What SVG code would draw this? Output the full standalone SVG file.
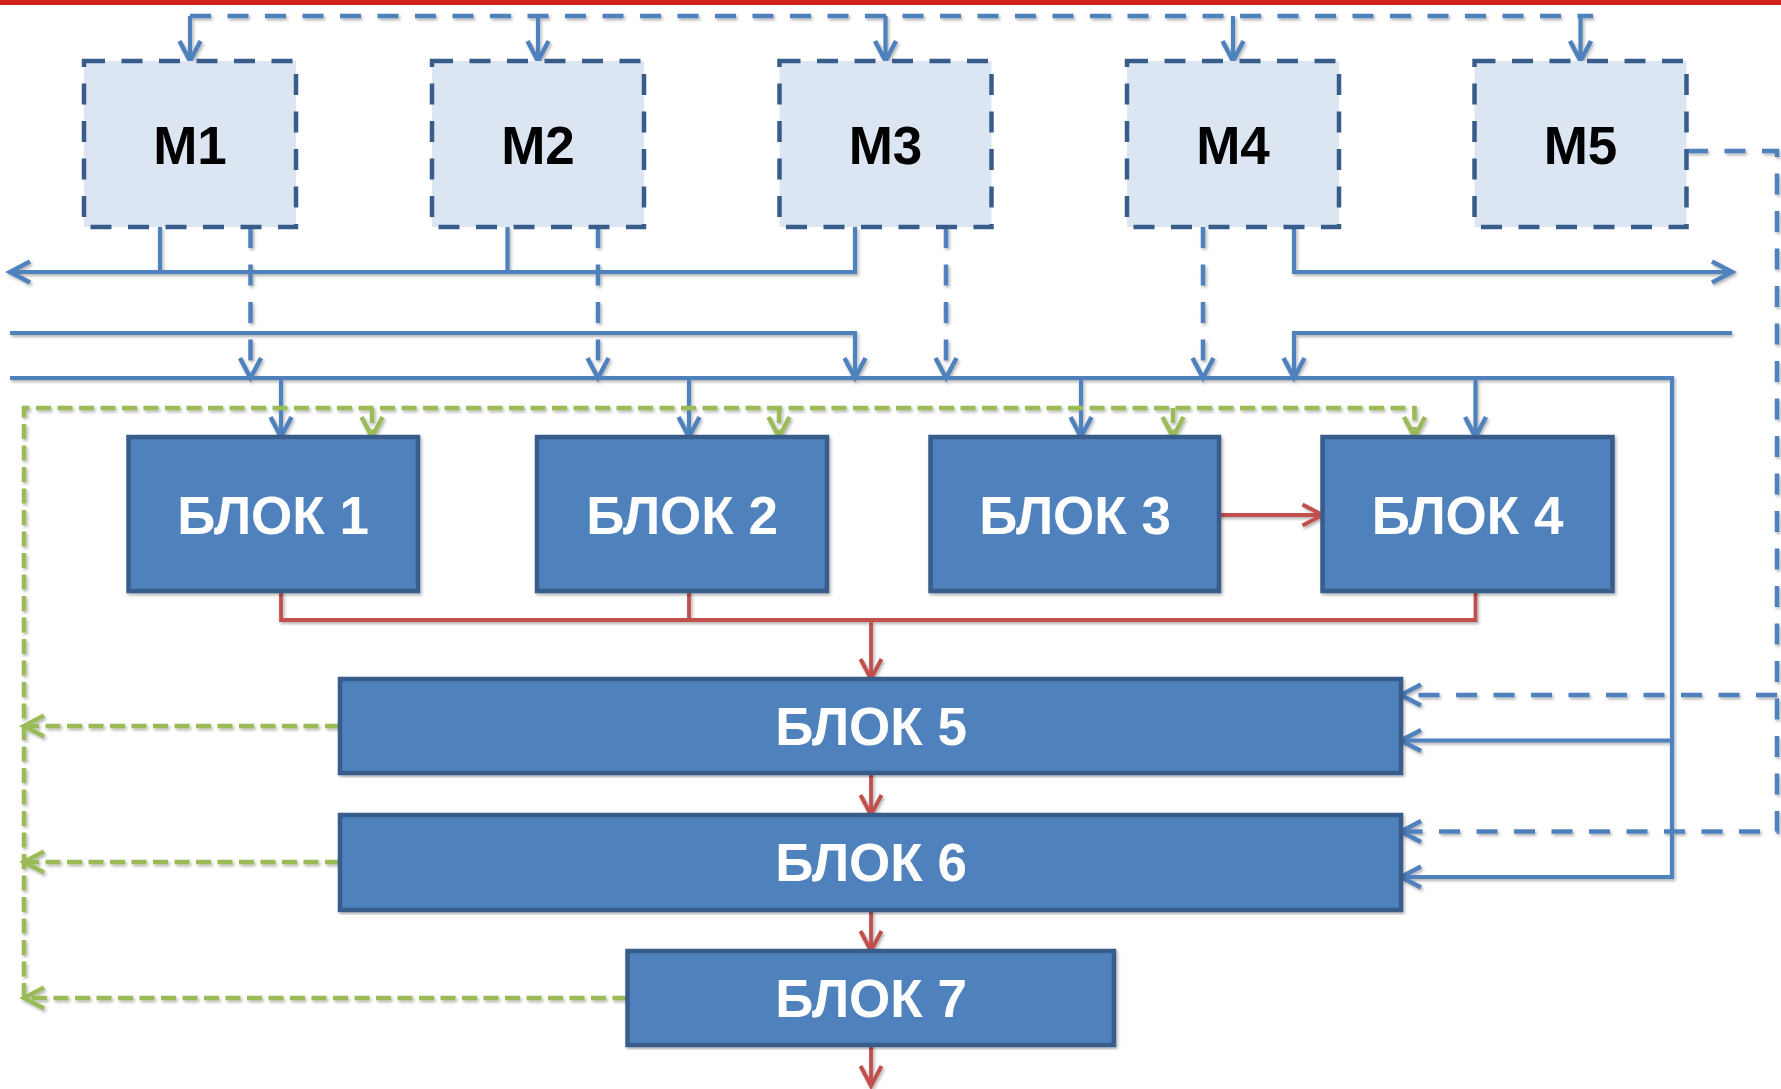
<svg xmlns="http://www.w3.org/2000/svg" width="1781" height="1089" viewBox="0 0 1781 1089">
<style>
.mbox{fill:#DCE6F2;stroke:#385D8A;stroke-width:4.5;stroke-dasharray:21 16.5}
.blk{fill:#4F81BD;stroke:#385D8A;stroke-width:4.5}
.mtxt{font-family:"Liberation Sans",Arial,sans-serif;font-weight:bold;font-size:53px;fill:#000;text-anchor:middle}
.btxt{font-family:"Liberation Sans",Arial,sans-serif;font-weight:bold;font-size:53px;fill:#fff;text-anchor:middle}
.b{fill:none;stroke:#4F81BD;stroke-width:4.2}
.bd{fill:none;stroke:#4F81BD;stroke-width:4.5;stroke-dasharray:21 16.5}
.r{fill:none;stroke:#C0504D;stroke-width:3.8}
.g{fill:none;stroke:#9BBB59;stroke-width:4.5;stroke-dasharray:15 6.5}
.ab{marker-end:url(#arB)}
.ar{marker-end:url(#arR)}
.ag{marker-end:url(#arG)}
</style>
<defs>
<marker id="arB" markerUnits="userSpaceOnUse" refX="0" refY="0" orient="auto" markerWidth="40" markerHeight="40" overflow="visible">
<path d="M -20 -10.5 L 0 0 L -20 10.5" fill="none" stroke="#4F81BD" stroke-width="4.5" stroke-dasharray="none" stroke-linejoin="miter"/>
</marker>
<marker id="arR" markerUnits="userSpaceOnUse" refX="0" refY="0" orient="auto" markerWidth="40" markerHeight="40" overflow="visible">
<path d="M -20 -10.5 L 0 0 L -20 10.5" fill="none" stroke="#C0504D" stroke-width="4" stroke-dasharray="none" stroke-linejoin="miter"/>
</marker>
<marker id="arG" markerUnits="userSpaceOnUse" refX="0" refY="0" orient="auto" markerWidth="40" markerHeight="40" overflow="visible">
<path d="M -20 -10.5 L 0 0 L -20 10.5" fill="none" stroke="#9BBB59" stroke-width="4.5" stroke-dasharray="none" stroke-linejoin="miter"/>
</marker>
<filter id="sh" x="-5%" y="-5%" width="110%" height="110%">
<feDropShadow dx="1.5" dy="2" stdDeviation="1.5" flood-color="#000" flood-opacity="0.3"/>
</filter>
</defs>
<rect x="0" y="0" width="1781" height="5" fill="#D0211A"/>

<g id="connectors" filter="url(#sh)">
<!-- top dashed distribution -->
<path class="bd" d="M 190 16 H 1593"/>
<path class="b ab" d="M 190 16 V 61"/>
<path class="b ab" d="M 538 16 V 61"/>
<path class="b ab" d="M 885.5 16 V 61"/>
<path class="b ab" d="M 1233 16 V 61"/>
<path class="b ab" d="M 1580.5 16 V 61"/>
<!-- bus 1 -->
<path class="b ab" d="M 855 227 V 272 H 10"/>
<path class="b" d="M 160 227 V 272"/>
<path class="b" d="M 507.5 227 V 272"/>
<path class="b ab" d="M 1294 227 V 272 H 1732"/>
<!-- bus 2 -->
<path class="b ab" d="M 10 333 H 855 V 378"/>
<path class="b ab" d="M 1732 333 H 1294 V 378"/>
<!-- dashed drops to bus 3 -->
<path class="bd ab" d="M 250.5 227 V 378"/>
<path class="bd ab" d="M 598 227 V 378"/>
<path class="bd ab" d="M 946 227 V 378"/>
<path class="bd ab" d="M 1203 227 V 378"/>
<!-- bus 3 -->
<path class="b ab" d="M 10 378 H 1672 V 877 H 1401"/>
<path class="b ab" d="M 1672 740.5 H 1401"/>
<path class="b ab" d="M 281 378 V 437"/>
<path class="b ab" d="M 689 378 V 437"/>
<path class="b ab" d="M 1081 378 V 437"/>
<path class="b ab" d="M 1475.5 378 V 437"/>
<!-- M5 dashed -->
<path class="bd ab" d="M 1687 151 H 1777 V 831.5 H 1401"/>
<path class="bd ab" d="M 1777 695 H 1401"/>
<!-- green feedback -->
<path class="g ag" d="M 24 998 V 408 H 1414.5 V 437"/>
<path class="g ag" d="M 372 408 V 437"/>
<path class="g ag" d="M 779 408 V 437"/>
<path class="g ag" d="M 1173 408 V 437"/>
<path class="g ag" d="M 340 726 H 24"/>
<path class="g ag" d="M 340 862 H 24"/>
<path class="g ag" d="M 627.5 998 H 24"/>
<!-- red flow -->
<path class="r" d="M 281 591 V 620 H 1475.5 V 591"/>
<path class="r" d="M 689 591 V 620"/>
<path class="r ar" d="M 871 620 V 679"/>
<path class="r ar" d="M 1219 515 H 1322.5"/>
<path class="r ar" d="M 871 773 V 815"/>
<path class="r ar" d="M 871 910 V 951"/>
<path class="r ar" d="M 871 1045 V 1086"/>
</g>

<g id="M1"><rect class="mbox" x="84" y="61" width="212" height="166"/><text class="mtxt" x="190" y="164">M1</text></g>
<g id="M2"><rect class="mbox" x="432" y="61" width="212" height="166"/><text class="mtxt" x="538" y="164">M2</text></g>
<g id="M3"><rect class="mbox" x="779.5" y="61" width="212" height="166"/><text class="mtxt" x="885.5" y="164">M3</text></g>
<g id="M4"><rect class="mbox" x="1127" y="61" width="212" height="166"/><text class="mtxt" x="1233" y="164">M4</text></g>
<g id="M5"><rect class="mbox" x="1474.5" y="61" width="212" height="166"/><text class="mtxt" x="1580.5" y="164">M5</text></g>

<g id="blok1" filter="url(#sh)"><rect class="blk" x="128.5" y="437" width="289.5" height="154"/><text class="btxt" x="273" y="534">БЛОК 1</text></g>
<g id="blok2" filter="url(#sh)"><rect class="blk" x="537" y="437" width="290" height="154"/><text class="btxt" x="682" y="534">БЛОК 2</text></g>
<g id="blok3" filter="url(#sh)"><rect class="blk" x="930.5" y="437" width="288.5" height="154"/><text class="btxt" x="1075" y="534">БЛОК 3</text></g>
<g id="blok4" filter="url(#sh)"><rect class="blk" x="1322.5" y="437" width="290" height="154"/><text class="btxt" x="1467.5" y="534">БЛОК 4</text></g>
<g id="blok5" filter="url(#sh)"><rect class="blk" x="340" y="679" width="1061" height="94"/><text class="btxt" x="871" y="745">БЛОК 5</text></g>
<g id="blok6" filter="url(#sh)"><rect class="blk" x="340" y="815" width="1061" height="95"/><text class="btxt" x="871" y="881">БЛОК 6</text></g>
<g id="blok7" filter="url(#sh)"><rect class="blk" x="627.5" y="951" width="486.5" height="94"/><text class="btxt" x="871" y="1017">БЛОК 7</text></g>
</svg>
